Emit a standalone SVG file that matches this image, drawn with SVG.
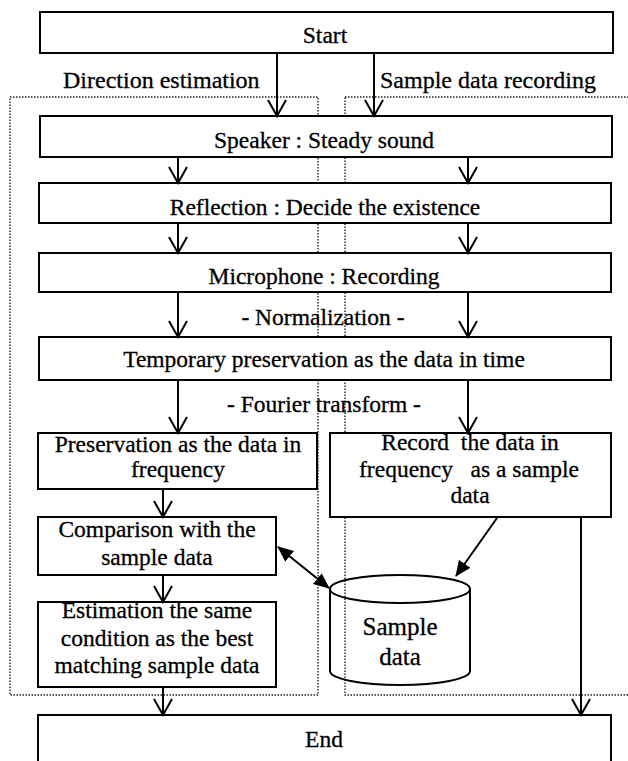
<svg xmlns="http://www.w3.org/2000/svg" width="628" height="761" viewBox="0 0 628 761">
<style>
.box{fill:#fff;stroke:#000;stroke-width:2}
.t{font-family:'Liberation Serif','Times New Roman',Times,serif;font-size:23.5px;fill:#000;stroke:#000;stroke-width:0.3;text-anchor:middle}
.lbl{font-family:'Liberation Serif','Times New Roman',Times,serif;font-size:24px;fill:#000;stroke:#000;stroke-width:0.3}
.c{fill:none;stroke:#000;stroke-width:2}
.dot{fill:none;stroke:#222;stroke-width:1.4;stroke-dasharray:1.5 1.5}
</style>
<defs>
<marker id="v" viewBox="0 0 20 20" refX="18" refY="10" markerWidth="20" markerHeight="20" markerUnits="userSpaceOnUse" orient="auto">
<path d="M2,1 L18,10 L2,19" fill="none" stroke="#000" stroke-width="2"/>
</marker>
<marker id="f" viewBox="0 0 16 14" refX="15" refY="7" markerWidth="16" markerHeight="14" markerUnits="userSpaceOnUse" orient="auto-start-reverse">
<path d="M0,0 L16,7 L0,14 z" fill="#000"/>
</marker>
</defs>
<g font-family="Liberation Serif, Times New Roman, serif">
<g id="regions">
<rect class="dot" x="10" y="97" width="308" height="598"/>
<rect class="dot" x="345" y="97" width="300" height="598"/>
</g>
<g id="labels">
<text class="lbl" x="63" y="88">Direction estimation</text>
<text class="lbl" x="380" y="88">Sample data recording</text>
<text class="t" x="323" y="325">- Normalization -</text>
<text class="t" x="324" y="412">- Fourier transform -</text>
</g>
<g id="start"><rect class="box" x="40" y="12" width="573" height="41"/><text class="t" x="325" y="43">Start</text></g>
<g id="speaker"><rect class="box" x="40" y="116" width="572" height="41"/><text class="t" x="324" y="148">Speaker : Steady sound</text></g>
<g id="reflection"><rect class="box" x="39" y="183" width="572" height="40"/><text class="t" x="325" y="215">Reflection : Decide the existence</text></g>
<g id="microphone"><rect class="box" x="39" y="253" width="572" height="39"/><text class="t" x="324" y="284">Microphone : Recording</text></g>
<g id="temporary"><rect class="box" x="39" y="337" width="572" height="43"/><text class="t" x="324" y="367">Temporary preservation as the data in time</text></g>
<g id="preservation"><rect class="box" x="38" y="433" width="279" height="56"/><text class="t" x="178" y="452">Preservation as the data in</text><text class="t" x="178" y="477">frequency</text></g>
<g id="record"><rect class="box" x="330" y="433" width="281" height="84"/><text class="t" x="470" y="450" xml:space="preserve">Record  the data in</text><text class="t" x="469" y="477" xml:space="preserve">frequency   as a sample</text><text class="t" x="470" y="503">data</text></g>
<g id="comparison"><rect class="box" x="38" y="517" width="238" height="58"/><text class="t" x="157" y="537">Comparison with the</text><text class="t" x="157" y="565">sample data</text></g>
<g id="estimation"><rect class="box" x="38" y="602" width="238" height="85"/><text class="t" x="157" y="618">Estimation the same</text><text class="t" x="157" y="646">condition as the best</text><text class="t" x="157" y="673">matching sample data</text></g>
<g id="sampledata">
<path class="c" d="M330,589 A70,14 0 0 1 470,589 L470,671 A70,14 0 0 1 330,671 Z" fill="#fff"/>
<path class="c" d="M330,589 A70,14 0 0 0 470,589"/>
<text class="t" x="400" y="635" style="font-size:25px">Sample</text>
<text class="t" x="400" y="665" style="font-size:25px">data</text>
</g>
<g id="end"><rect class="box" x="38" y="715" width="573" height="60"/><text class="t" x="324" y="747">End</text></g>
</g>
<g id="connectors">
<line class="c" x1="277" y1="53" x2="277" y2="116" marker-end="url(#v)"/>
<line class="c" x1="374" y1="53" x2="374" y2="116" marker-end="url(#v)"/>
<line class="c" x1="178" y1="157" x2="178" y2="183" marker-end="url(#v)"/>
<line class="c" x1="468" y1="157" x2="468" y2="183" marker-end="url(#v)"/>
<line class="c" x1="178" y1="223" x2="178" y2="253" marker-end="url(#v)"/>
<line class="c" x1="468" y1="223" x2="468" y2="253" marker-end="url(#v)"/>
<line class="c" x1="178" y1="292" x2="178" y2="337" marker-end="url(#v)"/>
<line class="c" x1="468" y1="292" x2="468" y2="337" marker-end="url(#v)"/>
<line class="c" x1="178" y1="380" x2="178" y2="433" marker-end="url(#v)"/>
<line class="c" x1="468" y1="380" x2="468" y2="433" marker-end="url(#v)"/>
<line class="c" x1="163" y1="489" x2="163" y2="517" marker-end="url(#v)"/>
<line class="c" x1="163" y1="575" x2="163" y2="602" marker-end="url(#v)"/>
<line class="c" x1="163" y1="687" x2="163" y2="715" marker-end="url(#v)"/>
<line class="c" x1="581" y1="517" x2="581" y2="715" marker-end="url(#v)"/>
<line class="c" x1="497" y1="518" x2="456" y2="576" stroke-width="2.5" marker-end="url(#f)"/>
<line class="c" x1="278" y1="547" x2="329" y2="588" stroke-width="2.5" marker-start="url(#f)" marker-end="url(#f)"/>
</g>
</svg>
